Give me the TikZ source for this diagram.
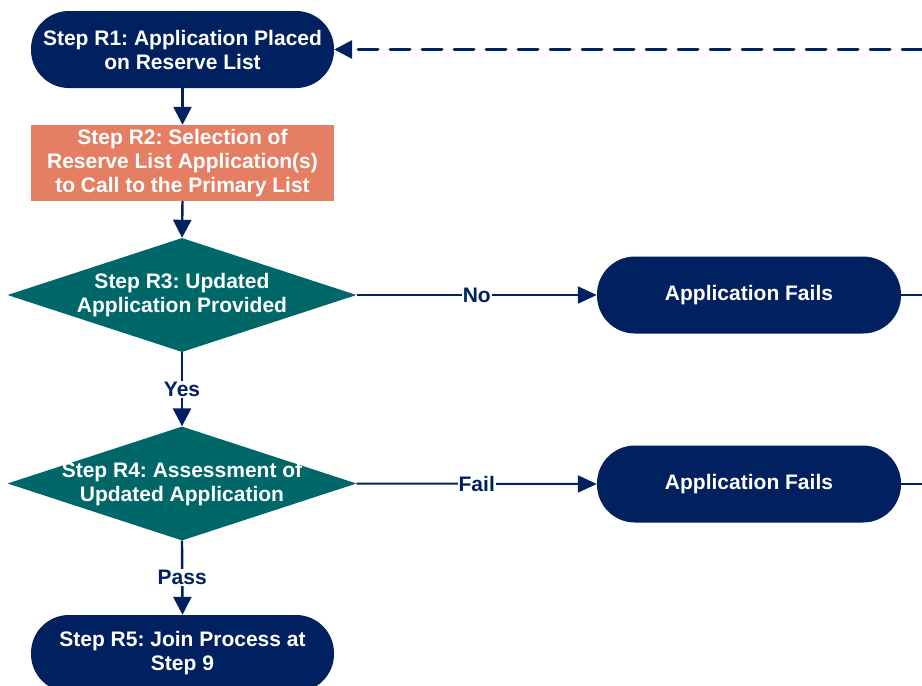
\documentclass[tikz,border=0pt]{standalone}
\usepackage{fontspec}
\setmainfont{Liberation Sans}
\usetikzlibrary{shapes.geometric,arrows.meta}
\definecolor{navy}{HTML}{002060}
\definecolor{tealc}{HTML}{006769}
\definecolor{orangec}{HTML}{E47F63}
\tikzset{
  txt/.style={font=\fontsize{21pt}{24pt}\selectfont\bfseries\frenchspacing, align=center, text=white, inner sep=0pt},
  term/.style={txt, fill=navy, rectangle, rounded corners=38pt, minimum width=303pt, minimum height=77pt},
  procbox/.style={txt, fill=orangec, rectangle, minimum width=303pt, minimum height=76pt},
  decbox/.style={fill=tealc, diamond, aspect=3.06, inner sep=0pt, minimum width=349pt, minimum height=114pt},
  conn/.style={draw=navy, line width=2.4pt, -{Triangle[width=18pt,length=18pt]}},
  hconn/.style={draw=navy, line width=2pt, -{Triangle[width=17pt,length=19pt]}},
  plainline/.style={draw=navy, line width=2pt},
  dashconn/.style={draw=navy, line width=3pt, line cap=round, dash pattern=on 20pt off 12pt, -{Triangle[width=18pt,length=18pt]}},
  lbl/.style={font=\fontsize{21pt}{24pt}\selectfont\bfseries, text=navy, fill=white, inner sep=1pt}
}
\begin{document}
\begin{tikzpicture}[x=1pt,y=-1pt]
\useasboundingbox (0,0) rectangle (922,686);
\node[term] (r1) at (182.5,49.5) {Step R1: Application Placed\\on Reserve List};
\node[procbox] (r2) at (182.5,163) {Step R2: Selection of\\Reserve List Application(s)\\to Call to the Primary List};
\node[decbox] (r3) at (182,295) {};
\node[txt] (r3t) at (182,295.5) {Step R3: Updated\\Application Provided};
\node[decbox] (r4) at (182,483.5) {};
\node[txt] (r4t) at (182,484) {Step R4: Assessment of\\Updated Application};
\node[term] (r5) at (182.5,653.5) {Step R5: Join Process at\\Step 9};
\node[term, minimum width=304pt] (f1) at (749,295) {Application Fails};
\node[term, minimum width=304pt] (f2) at (749,484) {Application Fails};
\coordinate (e1) at (922,295);
\coordinate (e2) at (922,484);
\coordinate (ed) at (922,49.5);

\draw[conn] (r1.south) -- (r2.north);
\draw[conn] (r2.south) -- (r3.north);
\draw[conn] (r3.south) -- node[lbl] (yes) {Yes} (r4.north);
\draw[conn] (r4.south) -- node[lbl] (pass) {Pass} (r5.north);
\draw[hconn] (r3.east) -- node[lbl] (no) {No} (f1.west);
\draw[hconn] (r4.east) -- node[lbl] (fail) {Fail} (f2.west);
\draw[plainline] (f1.east) -- (e1);
\draw[plainline] (f2.east) -- (e2);
\draw[dashconn] (ed) -- (r1.east);
\end{tikzpicture}
\end{document}
